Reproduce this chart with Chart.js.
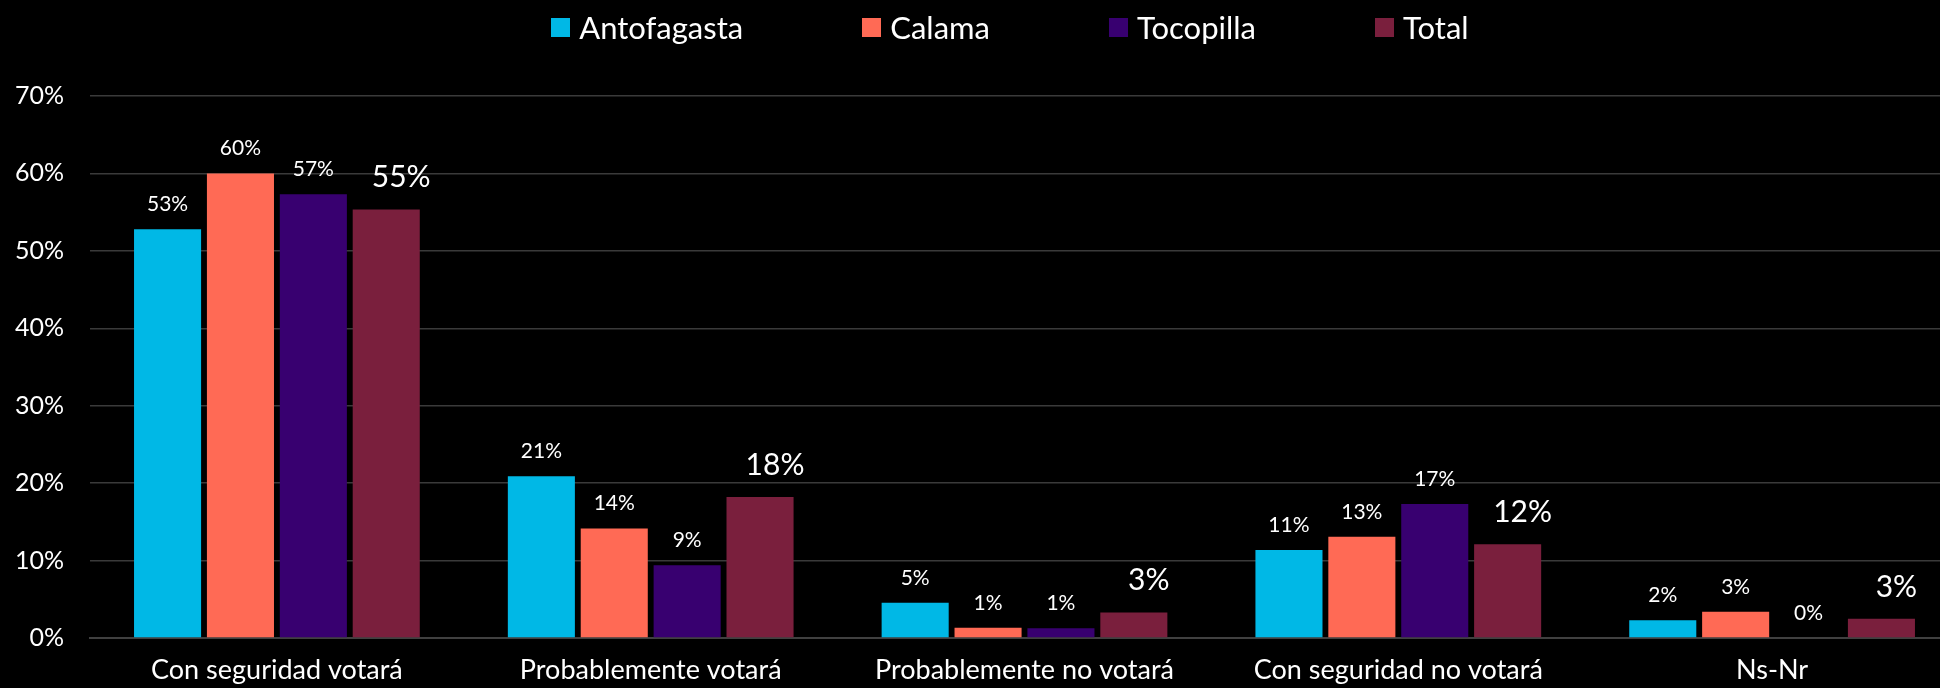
<!DOCTYPE html>
<html>
<head>
<meta charset="utf-8">
<script src="https://cdn.jsdelivr.net/npm/chart.js@4"></script>
<style>
  html, body { margin: 0; padding: 0; background: #000; overflow: hidden; }
  #wrap { position: relative; width: 1980px; height: 688px; }
  #legend {
    position: absolute; left: 0; top: 8px; width: 2020px; height: 38px;
    display: flex; justify-content: center; align-items: center; gap: 119px;
    font-family: Lato, sans-serif; font-size: 31px; color: #fff;
  }
  #legend .item { display: flex; align-items: center; }
  #legend .box { width: 19px; height: 19px; margin-right: 9px; }
</style>
</head>
<body>
<div id="wrap">
  <canvas id="chart"></canvas>
  <div id="legend"></div>
</div>
<script>
const categories = ['Con seguridad votará', 'Probablemente votará', 'Probablemente no votará', 'Con seguridad no votará', 'Ns-Nr'];
const antofagasta = [52.8, 20.9, 4.55, 11.35, 2.3];
const calama      = [60.0, 14.15, 1.33, 13.07, 3.4];
const tocopilla   = [57.3, 9.4, 1.25, 17.3, 0];
const total       = [55.35, 18.2, 3.3, 12.1, 2.5];
const yTicks = [0, 10, 20, 30, 40, 50, 60, 70];

const series = [
  { label: 'Antofagasta', data: antofagasta, color: '#00B8E6' },
  { label: 'Calama',      data: calama,      color: '#FF6A55' },
  { label: 'Tocopilla',   data: tocopilla,   color: '#380070' },
  { label: 'Total',       data: total,       color: '#7A1F3D', big: true }
];

// html legend, spacing is wider than the built-in one allows
document.getElementById('legend').innerHTML = series.map(s => `
  <div class="item"><span class="box" style="background:${s.color}"></span>${s.label}</div>`).join('');

const valueLabels = {
  id: 'valueLabels',
  afterDatasetsDraw(chart) {
    const ctx = chart.ctx;
    ctx.save();
    ctx.fillStyle = '#fff';
    ctx.textAlign = 'center';
    ctx.textBaseline = 'alphabetic';
    chart.data.datasets.forEach((ds, i) => {
      const meta = chart.getDatasetMeta(i);
      meta.data.forEach((bar, j) => {
        const txt = Math.round(ds.data[j]) + '%';
        if (ds.big) {
          ctx.font = '30px Lato, sans-serif';
          ctx.fillText(txt, bar.x + 15, bar.y - 22);
        } else {
          ctx.font = '21px Lato, sans-serif';
          ctx.fillText(txt, bar.x, bar.y - 18);
        }
      });
    });
    ctx.restore();
  }
};

new Chart(document.getElementById('chart'), {
  type: 'bar',
  data: {
    labels: categories,
    datasets: series.map(s => ({
      label: s.label, data: s.data, big: s.big,
      backgroundColor: s.color,
      categoryPercentage: 0.78, barPercentage: 0.92
    }))
  },
  options: {
    responsive: true,
    maintainAspectRatio: false,
    animation: false,
    layout: { padding: { top: 96, right: 21, left: 0, bottom: 0 } },
    plugins: { legend: { display: false }, tooltip: { enabled: false } },
    scales: {
      x: {
        afterFit: s => { s.height = 50; },
        grid: { display: false, drawTicks: false },
        border: { color: '#404040', width: 2 },
        ticks: { color: '#fff', padding: 16, maxRotation: 0, font: { family: 'Lato', size: 27 } }
      },
      y: {
        min: 0, max: 70,
        afterFit: s => { s.width = 90; },
        afterBuildTicks: s => { s.ticks = yTicks.map(v => ({ value: v })); },
        grid: { color: '#3a3a3a', lineWidth: 1.5, drawTicks: false },
        border: { display: false },
        ticks: { color: '#fff', padding: 26, font: { family: 'Lato', size: 25 }, callback: v => v + '%' }
      }
    }
  },
  plugins: [valueLabels]
});
</script>
</body>
</html>
